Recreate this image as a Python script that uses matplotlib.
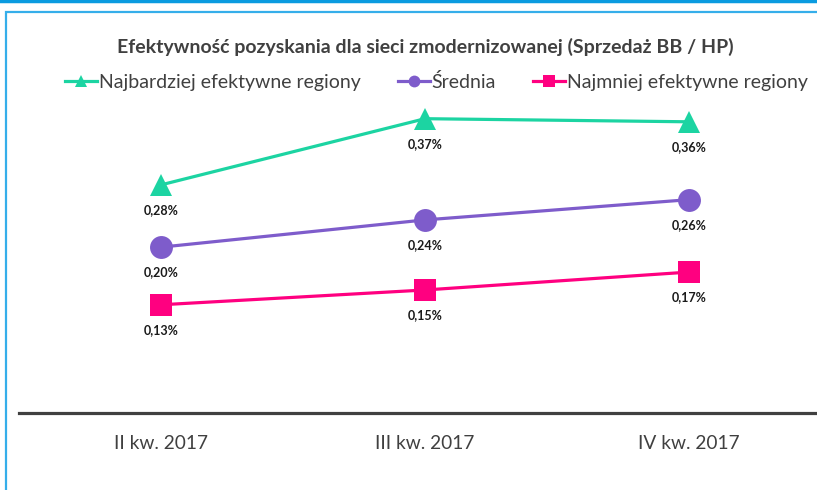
import matplotlib
matplotlib.use("Agg")
import matplotlib.pyplot as plt
from matplotlib.lines import Line2D
from matplotlib.patches import Rectangle

categories = ["II kw. 2017", "III kw. 2017", "IV kw. 2017"]
series_names = ["Najbardziej efektywne regiony", "Średnia", "Najmniej efektywne regiony"]
top_values = [0.281, 0.366, 0.362]
avg_values = [0.201, 0.236, 0.262]
low_values = [0.127, 0.146, 0.169]
title = "Efektywność pozyskania dla sieci zmodernizowanej (Sprzedaż BB / HP)"

colors = ["#1CD4A2", "#7E5CCB", "#FF0080"]
markers = ["^", "o", "s"]

W, H = 817, 490
fig = plt.figure(figsize=(W / 100, H / 100), dpi=100)
plt.rcParams['font.family'] = ['Lato', 'DejaVu Sans']

# decorative frame
fig.add_artist(Line2D([0, 1], [1 - 1.5 / H, 1 - 1.5 / H], transform=fig.transFigure,
                      color="#0A9BE0", lw=2.5))
fig.add_artist(Rectangle((5.5 / W, -0.1), 1.2, 1 - 12.5 / H + 0.1, transform=fig.transFigure,
                         fill=False, edgecolor="#35AEEA", lw=1.6))

# axes: x from 19px to 821px, y from 100px (top) to 413px (bottom)
left_px, right_px, top_px, bottom_px = 19, 821, 100, 413
ax = fig.add_axes([left_px / W, 1 - bottom_px / H, (right_px - left_px) / W, (bottom_px - top_px) / H])
ax.set_xlim(-0.5 - 10 / 264, 2.5)
ax.set_ylim(-0.012, 0.390)


def fmt(v):
    return f"{v * 100:.2f}"[:0] + "0," + f"{round(v * 100):02d}" + "%"


x = list(range(len(categories)))
for vals, c, m in zip([top_values, avg_values, low_values], colors, markers):
    ax.plot(x, vals, color=c, lw=2.3, marker=m, markersize=16.5, markeredgewidth=0,
            solid_capstyle="round", zorder=3)
    for xi, v in zip(x, vals):
        ax.annotate(fmt(v), (xi, v), xytext=(0, -25), textcoords="offset pixels",
                    ha="center", va="center", fontsize=9, fontweight="bold", color="#1A1A1A")

ax.set_xticks(x)
ax.set_xticklabels(categories, fontsize=13.8, color="#404040")
ax.tick_params(axis="x", length=0, pad=16)
ax.set_yticks([])
for s in ["top", "right", "left"]:
    ax.spines[s].set_visible(False)
ax.spines["bottom"].set_color("#404040")
ax.spines["bottom"].set_linewidth(2.3)
ax.set_facecolor("none")

fig.text(425 / W, 1 - 47 / H, title, ha="center", va="center", fontsize=14,
         fontweight="bold", color="#404040")

handles = [Line2D([0], [0], color=c, lw=2.3, marker=m, markersize=8.5, markeredgewidth=0)
           for c, m in zip(colors, markers)]
leg = fig.legend(handles, series_names, loc="center", bbox_to_anchor=(436.5 / W, 1 - 82 / H),
                 ncol=3, frameon=False, fontsize=14, handlelength=1.65, handletextpad=0.1,
                 columnspacing=1.9, labelcolor="#404040", borderpad=0, borderaxespad=0)

fig.savefig("out.png", dpi=100)
